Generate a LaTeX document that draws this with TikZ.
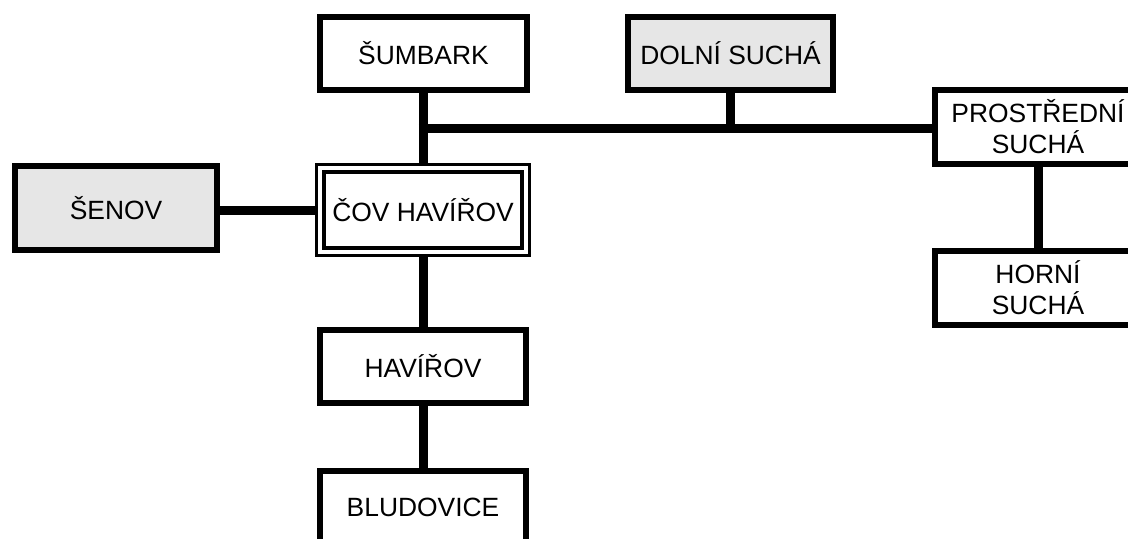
\documentclass[tikz,border=0pt]{standalone}
\usepackage{fontspec}
\setmainfont{Liberation Sans}
\usetikzlibrary{fit,backgrounds}
\definecolor{boxgray}{RGB}{230,230,230}
\begin{document}
\begin{tikzpicture}[x=0.75pt,y=-0.75pt,
  box/.style={draw,line width=4.5pt,fill=white,inner sep=0pt,outer sep=0pt,
    minimum width=154.5pt,minimum height=55pt,align=center,
    font=\fontsize{19.8}{23.2}\selectfont},
  shaded/.style={box,fill=boxgray},
  link/.style={line width=6.75pt}]
\useasboundingbox (0,0) rectangle (1128,539);
\clip (0,0) rectangle (1128,539);

% stations
\node[box,minimum width=155.25pt] (sumbark) at (423.5,53.5) {ŠUMBARK};
\node[shaded,minimum width=153.75pt] (dolni) at (730.5,53.5) {DOLNÍ SUCHÁ};
\node[box] (prost) at (1038,127) {PROSTŘEDNÍ\\SUCHÁ};
\node[box] (horni) at (1038,288) {HORNÍ\\SUCHÁ};
\node[shaded,minimum width=151.5pt,minimum height=63pt] (senov) at (116,208) {ŠENOV};
\node[box,line width=3pt,minimum width=148.5pt,minimum height=57pt] (cov) at (423,210) {ČOV HAVÍŘOV};
\node[draw,line width=2.25pt,inner sep=5.6pt,outer sep=0pt,fit=(cov)] (covout) {};
\node[box] (havirov) at (423,366.5) {HAVÍŘOV};
\node[box] (bludovice) at (423,507.5) {BLUDOVICE};

% pipelines
\coordinate (hub) at (423.5,128.5);
\begin{pgfonlayer}{background}
\draw[link] (sumbark.south) -- (sumbark.south |- covout.north);
\draw[link] ([xshift=-3.4pt]hub) -- (hub -| prost.west);
\draw[link] (dolni.south) -- (dolni.south |- hub);
\draw[link] (senov.east |- covout.west) -- (covout.west);
\draw[link] (covout.south) -- (covout.south |- havirov.north);
\draw[link] (havirov.south) -- (bludovice.north);
\draw[link] (prost.south) -- (horni.north);
\end{pgfonlayer}
\end{tikzpicture}
\end{document}
